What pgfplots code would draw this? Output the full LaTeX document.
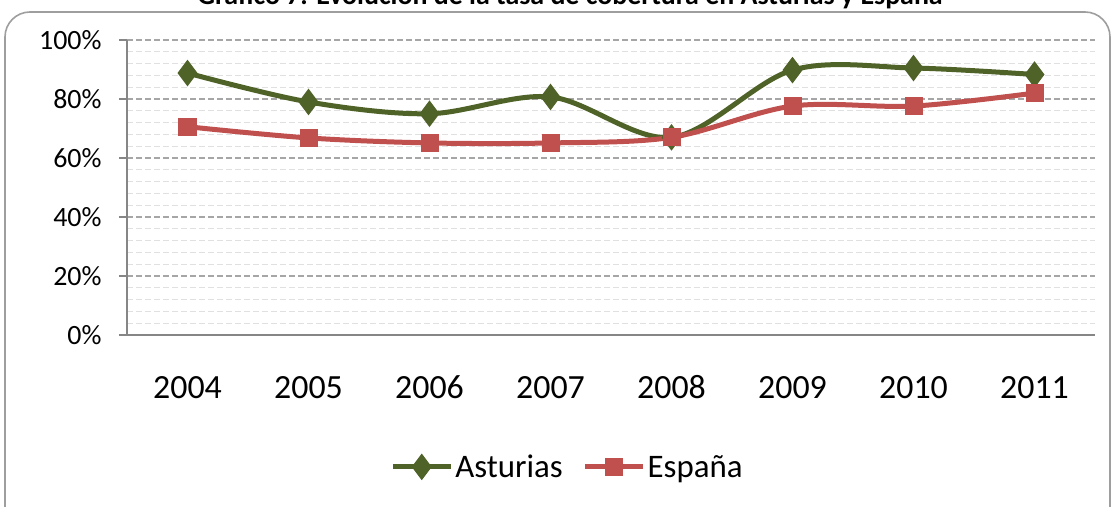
\documentclass[border=0pt]{standalone}
\usepackage{pgfplots}
\pgfplotsset{compat=1.18}
\usepackage{fontspec}
\setmainfont{Carlito}
\definecolor{ast}{HTML}{4F6228}
\definecolor{esp}{HTML}{C0504D}
\definecolor{axgray}{HTML}{868686}
\definecolor{majgrid}{HTML}{A6A6A6}
\definecolor{mingrid}{HTML}{E0E0E0}
\begin{document}
\begin{tikzpicture}
\begin{axis}[
  scale only axis,
  width=968bp, height=295bp,
  at={(127bp,172bp)}, anchor=south west,
  xmin=-0.5, xmax=7.5, ymin=0, ymax=100,
  axis x line*=bottom, axis y line*=left,
  axis line style={axgray, line width=1.8bp},
  xtick={0,...,7},
  xticklabels={2004,2005,2006,2007,2008,2009,2010,2011},
  minor xtick={-0.5,0.5,...,7.5},
  ytick={0,20,...,100},
  yticklabels={0\%,20\%,40\%,60\%,80\%,100\%},
  minor ytick={4,8,...,96},
  tick align=outside,
  x tick style={draw=none},
  minor x tick style={axgray, line width=1.5bp},
  minor tick length=10bp,
  y tick style={axgray, line width=1.5bp},
  major tick length=8bp,
  minor y tick style={draw=none},
  ymajorgrids, yminorgrids,
  major grid style={majgrid, line width=1.3bp, dash pattern=on 6bp off 3bp},
  minor grid style={mingrid, line width=1.2bp, dash pattern=on 6bp off 3bp},
  xticklabel style={font=\fontsize{34}{36}\selectfont, anchor=base, yshift=-55bp},
  yticklabel style={font=\fontsize{28}{30}\selectfont, xshift=-14bp},
  legend columns=2,
  legend style={draw=none, fill=none, at={(0.455,-0.447)}, anchor=center,
    font=\fontsize{33}{35}\selectfont,
    /tikz/every even column/.append style={column sep=18bp}},
  legend image code/.code={\draw[mark repeat=2,mark phase=2] plot coordinates {(0bp,0bp) (29bp,0bp) (58bp,0bp)};},
  clip=false,
]
\addplot[ast, line width=5bp, smooth, tension=0.55, mark=diamond*, mark size=12.5bp,
  mark options={solid, fill=ast, line width=1bp}]
  coordinates {(0,88.8) (1,79) (2,75) (3,80.7) (4,67) (5,89.8) (6,90.5) (7,88.3)};
\addlegendentry{Asturias}
\addplot[esp, line width=5bp, smooth, tension=0.55, mark=square*, mark size=8.5bp,
  mark options={solid, fill=esp, line width=1bp}]
  coordinates {(0,70.6) (1,66.8) (2,65.1) (3,65.1) (4,67) (5,77.6) (6,77.6) (7,82)};
\addlegendentry{España}
\end{axis}
\draw[rounded corners=25bp, axgray!80, line width=1.6bp] (5bp,-30bp) rectangle (1110bp,495bp);
\node[anchor=base, font=\bfseries\fontsize{28}{30}\selectfont] at (570bp,502bp)
  {Gráfico 7. Evolución de la tasa de cobertura en Asturias y España};
\pgfresetboundingbox
\useasboundingbox (0,0) rectangle (1115bp,507bp);
\end{tikzpicture}
\end{document}
